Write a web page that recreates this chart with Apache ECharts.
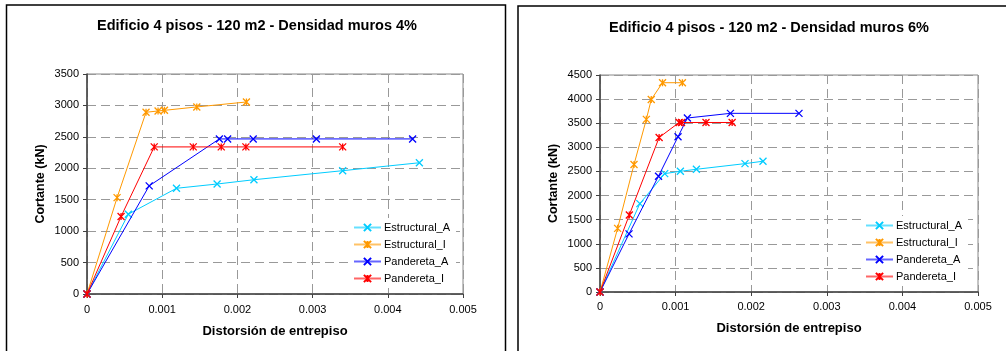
<!DOCTYPE html>
<html>
<head>
<meta charset="utf-8">
<script src="https://cdn.jsdelivr.net/npm/echarts@6/dist/echarts.min.js"></script>
<style>
html,body{margin:0;padding:0;background:#fff;}
#c{width:1006px;height:351px;}
</style>
</head>
<body>
<div id="c"></div>
<script>
// ---- Data ----
const titles = ['Edificio 4 pisos - 120 m2 - Densidad muros 4%', 'Edificio 4 pisos - 120 m2 - Densidad muros 6%'];
const seriesNames = ['Estructural_A', 'Estructural_I', 'Pandereta_A', 'Pandereta_I'];
const xAxisTitle = 'Distorsión de entrepiso';
const yAxisTitle = 'Cortante (kN)';
const xTicks = [0, 0.001, 0.002, 0.003, 0.004, 0.005];
const yMax = [3500, 4500];

// Densidad muros 4%
const estA4x = [0, 0.00055, 0.00119, 0.00173, 0.00222, 0.0034, 0.00442];
const estA4y = [0, 1270, 1682, 1750, 1818, 1962, 2088];
const estI4x = [0, 0.0004, 0.000785, 0.000945, 0.00103, 0.00146, 0.00212];
const estI4y = [0, 1533, 2891, 2912, 2922, 2976, 3055];
const panA4x = [0, 0.000827, 0.00176, 0.00187, 0.00221, 0.00305, 0.00433];
const panA4y = [0, 1720, 2467, 2467, 2467, 2467, 2467];
const panI4x = [0, 0.000453, 0.000894, 0.001413, 0.001785, 0.002113, 0.0034];
const panI4y = [0, 1234, 2340, 2340, 2340, 2340, 2340];

// Densidad muros 6%
const estA6x = [0, 0.000527, 0.000856, 0.001063, 0.001275, 0.001918, 0.002156];
const estA6y = [0, 1832, 2455, 2503, 2545, 2662, 2712];
const estI6x = [0, 0.000233, 0.00045, 0.000613, 0.000678, 0.000827, 0.00109];
const estI6y = [0, 1320, 2645, 3580, 3992, 4340, 4340];
const panA6x = [0, 0.000384, 0.000774, 0.001032, 0.001156, 0.001725, 0.002632];
const panA6y = [0, 1205, 2402, 3220, 3608, 3705, 3705];
const panI6x = [0, 0.000388, 0.000782, 0.001047, 0.001078, 0.001402, 0.001748];
const panI6y = [0, 1598, 3204, 3515, 3515, 3515, 3515];

// ---- Styles ----
const FONT = 'Liberation Sans, Arial, sans-serif';
const colors = ['#00CCFF', '#FF9900', '#0000FF', '#FF0000'];
const SYM_X = 'path://M0,0L10,10M10,0L0,10';
const SYM_STAR = 'path://M0,0L10,10M10,0L0,10M5,0L5,10';
const symbols = [SYM_X, SYM_STAR, SYM_X, SYM_STAR];

const zip = (xs, ys) => xs.map((x, i) => [x, ys[i]]);
const chartData = [
  [zip(estA4x, estA4y), zip(estI4x, estI4y), zip(panA4x, panA4y), zip(panI4x, panI4y)],
  [zip(estA6x, estA6y), zip(estI6x, estI6y), zip(panA6x, panA6y), zip(panI6x, panI6y)]
];

const grids = [
  {left: 87, top: 74, width: 376, height: 220},
  {left: 600, top: 75, width: 378, height: 217}
];
const titlePos = [{x: 257, y: 18}, {x: 769, y: 20}];
const legendPos = [{left: 350, top: 218}, {left: 862, top: 216}];

function xAxisOpt(i) {
  return {
    type: 'value', gridIndex: i, min: 0, max: 0.005, interval: 0.001,
    name: xAxisTitle, nameLocation: 'middle', nameGap: i === 0 ? 31 : 30,
    nameTextStyle: {fontFamily: FONT, fontWeight: 'bold', fontSize: 13, color: '#000'},
    axisLine: {show: true, onZero: false, lineStyle: {color: '#404040', width: 1.5}},
    axisTick: {show: true, length: 4, lineStyle: {color: '#404040', width: 1}},
    axisLabel: {fontFamily: FONT, fontSize: 11, color: '#000', margin: i === 0 ? 10 : 9,
      formatter: v => String(parseFloat(v.toFixed(3)))},
    splitLine: {show: true, lineStyle: {color: '#999', width: 1, type: [9, 5]}}
  };
}
function yAxisOpt(i) {
  return {
    type: 'value', gridIndex: i, min: 0, max: yMax[i], interval: 500,
    name: yAxisTitle, nameLocation: 'middle', nameGap: 40,
    nameTextStyle: {fontFamily: FONT, fontWeight: 'bold', fontSize: 12.5, color: '#000'},
    axisLine: {show: true, onZero: false, lineStyle: {color: '#404040', width: 1.5}},
    axisTick: {show: true, length: 4, lineStyle: {color: '#404040', width: 1}},
    axisLabel: {fontFamily: FONT, fontSize: 11, color: '#000', margin: 8,
      formatter: v => String(Math.round(v))},
    splitLine: {show: true, lineStyle: {color: '#999', width: 1, type: [9, 5]}}
  };
}

const series = [];
for (let c = 0; c < 2; c++) {
  for (let s = 0; s < 4; s++) {
    series.push({
      type: 'line', name: seriesNames[s], xAxisIndex: c, yAxisIndex: c,
      data: chartData[c][s],
      symbol: symbols[s], symbolSize: 7, showAllSymbol: true,
      lineStyle: {color: colors[s], width: 1},
      itemStyle: {color: colors[s], borderColor: colors[s], borderWidth: 1.3},
      emphasis: {disabled: true},
      animation: false, z: 3 + s
    });
  }
}

const option = {
  backgroundColor: '#fff',
  animation: false,
  title: titles.map((t, i) => ({
    text: t, left: titlePos[i].x, top: titlePos[i].y, textAlign: 'center',
    padding: 0,
    textStyle: {fontFamily: FONT, fontWeight: 'bold', fontSize: 14.5, color: '#000'}
  })),
  grid: grids.map(g => Object.assign({show: true, borderColor: '#888', borderWidth: 1, backgroundColor: '#fff'}, g)),
  xAxis: [xAxisOpt(0), xAxisOpt(1)],
  yAxis: [yAxisOpt(0), yAxisOpt(1)],
  legend: legendPos.map((p, i) => ({
    data: seriesNames, orient: 'vertical', left: p.left, top: p.top,
    itemWidth: 27, itemHeight: 9, itemGap: 6,
    backgroundColor: '#fff', padding: [4, 6, 4, 3],
    selectedMode: false, z: 10,
    lineStyle: {opacity: 0.6},
    textStyle: {fontFamily: FONT, fontSize: 11, color: '#000', padding: [0, 0, 0, -2]}
  })),
  graphic: [
    {type: 'rect', shape: {x: 6.5, y: 5, width: 499, height: 400}, style: {fill: 'none', stroke: '#000', lineWidth: 1.5}, z: 100},
    {type: 'rect', shape: {x: 518, y: 6, width: 600, height: 400}, style: {fill: 'none', stroke: '#000', lineWidth: 1.5}, z: 100}
  ],
  series: series
};

const chart = echarts.init(document.getElementById('c'), null, {renderer: 'canvas'});
chart.setOption(option);
</script>
</body>
</html>
